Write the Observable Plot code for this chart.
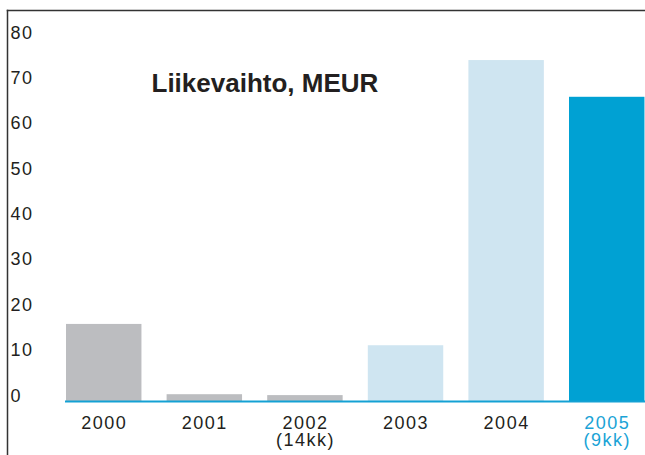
<!DOCTYPE html>
<html><head><meta charset="utf-8">
<script src="https://cdn.jsdelivr.net/npm/d3@7"></script>
<script src="https://cdn.jsdelivr.net/npm/@observablehq/plot@0.6"></script>
<style>
body{margin:0;background:#fff}
svg text{letter-spacing:1.5px}
svg g[font-weight="bold"] text{letter-spacing:0}
</style>
</head><body><div id="chart"></div>
<script>
const years = ["2000", "2001", "2002", "2003", "2004", "2005"];
const revenue = [17.0, 1.5, 1.3, 12.3, 75.2, 67.1];
const subLabels = ["", "", "(14kk)", "", "", "(9kk)"];
const yTicks = [0, 10, 20, 30, 40, 50, 60, 70, 80];
const title = "Liikevaihto, MEUR";

const data = years.map((year, i) => ({year, value: revenue[i], sub: subLabels[i]}));
const barColor = y => y === "2005" ? "#00a1d3" : (y === "2003" || y === "2004") ? "#cfe5f1" : "#bcbdc0";
const labelColor = y => y === "2005" ? "#1aa3d6" : "#231f20";

const plot = Plot.plot({
  width: 645, height: 455,
  marginTop: 10, marginLeft: 7, marginRight: 0, marginBottom: 0,
  style: {fontFamily: "'Liberation Sans', Arial, sans-serif", fontSize: "18px", color: "#231f20", background: "#fff"},
  x: {domain: years, range: [40.85, 669.6], padding: 0.25, round: false, axis: null},
  y: {domain: [0, 80], range: [401, 38.3], axis: null},
  color: {type: "identity"},
  marks: [
    Plot.barY(data, {x: "year", y: "value", fill: d => barColor(d.year)}),
    Plot.ruleY([0], {stroke: "#14a1d4", strokeWidth: 2, insetLeft: 58}),
    Plot.text(yTicks, {y: d => d, text: d => String(d), frameAnchor: "left", textAnchor: "start", lineAnchor: "bottom", dx: 3, fill: "#231f20"}),
    Plot.text(data, {x: "year", y: 0, text: "year", lineAnchor: "bottom", dy: 27, fill: d => labelColor(d.year)}),
    Plot.text(data, {x: "year", y: 0, text: "sub", lineAnchor: "bottom", dy: 44, fill: d => labelColor(d.year)}),
    Plot.text([title], {text: d => d, frameAnchor: "top-left", dx: 144, dy: 63, fontSize: 26, fontWeight: "bold", textAnchor: "start", lineAnchor: "top", fill: "#231f20"}),
    Plot.frame({anchor: "left", stroke: "#333", strokeWidth: 1.5}),
    Plot.frame({anchor: "top", stroke: "#333", strokeWidth: 1.5})
  ]
});
document.getElementById("chart").append(plot);
</script>
</body></html>
